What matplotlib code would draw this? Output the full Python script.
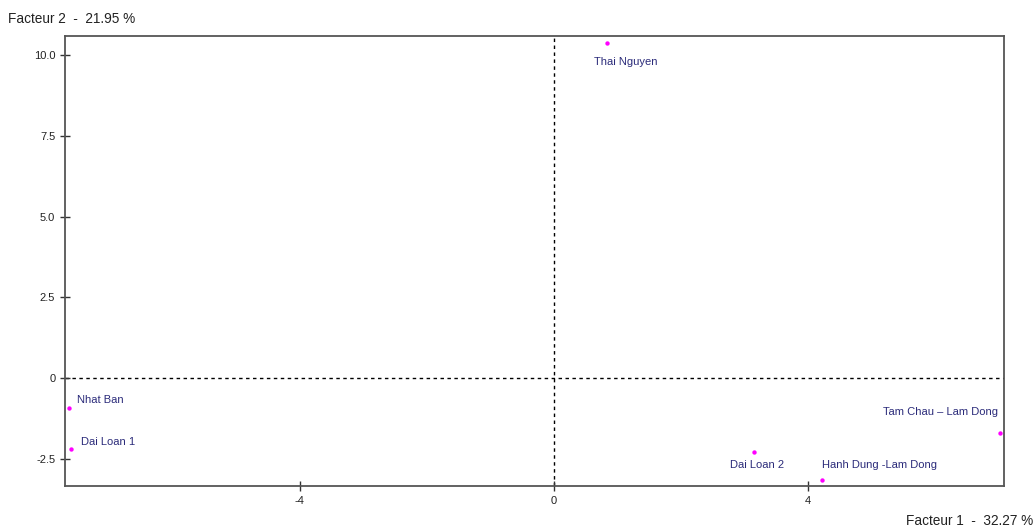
import matplotlib
matplotlib.use("Agg")
import matplotlib.pyplot as plt

names = ["Thai Nguyen", "Nhat Ban", "Dai Loan 1", "Dai Loan 2",
         "Hanh Dung -Lam Dong", "Tam Chau \u2013 Lam Dong"]
f1 = [0.83, -7.63, -7.60, 3.15, 4.23, 7.02]
f2 = [10.38, -0.94, -2.19, -2.29, -3.16, -1.69]
label_offsets = [(-13, -19, "left"), (8, 8, "left"), (10, 7, "left"),
                 (3, -13, "center"), (0, 15, "left"), (-2, 21, "right")]
xticks = [-4, 0, 4]
yticks = [-2.5, 0, 2.5, 5.0, 7.5, 10.0]
ytick_labels = ["-2.5", "0", "2.5", "5.0", "7.5", "10.0"]

plt.rcParams['font.family'] = ['Liberation Sans', 'DejaVu Sans']

fig = plt.figure(figsize=(10.35, 5.28), dpi=100)
W, H = 1035, 528
L, R, T, B = 65, 1004, 36, 486
ax = fig.add_axes([L / W, 1 - B / H, (R - L) / W, (B - T) / H])

ax.set_xlim(-7.70, 7.09)
ax.set_ylim(-3.34, 10.59)

ax.axvline(0, color="black", lw=1, ls=(0, (2.5, 2.5)), zorder=1)
ax.axhline(0, color="black", lw=1, ls=(0, (2.5, 2.5)), zorder=1)

ax.scatter(f1, f2, s=10, color="#ff00ff", zorder=3, linewidths=0)
for n, x, y, (dx, dy, ha) in zip(names, f1, f2, label_offsets):
    ax.annotate(n, (x, y), xytext=(dx, dy), textcoords="offset pixels",
                ha=ha, va="center", fontsize=8, color="#2b2b7a")

ax.set_xticks(xticks)
ax.set_xticklabels([str(t) for t in xticks])
ax.set_yticks(yticks)
ax.set_yticklabels(ytick_labels)
ax.tick_params(direction="inout", length=7, width=1, colors="#333333",
               labelsize=8, labelcolor="#222222")
for s in ax.spines.values():
    s.set_color("#555555")
    s.set_linewidth(1.3)

fig.text(8 / W, 1 - 19 / H, "Facteur 2  -  21.95 %", ha="left", va="center",
         fontsize=9.8, color="#222222")
fig.text(1033 / W, 1 - 521 / H, "Facteur 1  -  32.27 %", ha="right", va="center",
         fontsize=9.8, color="#222222")

fig.savefig("out.png", dpi=100)
